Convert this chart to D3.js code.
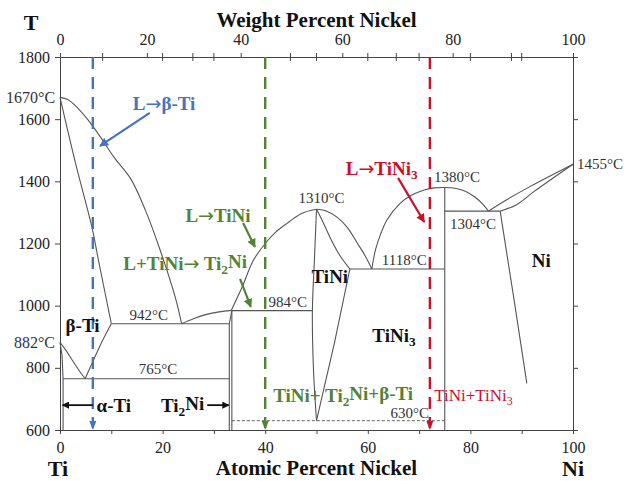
<!DOCTYPE html>
<html>
<head>
<meta charset="utf-8">
<script src="https://cdn.jsdelivr.net/npm/d3@7"></script>
<style>
  body { margin: 0; background: #fff; }
  text { font-family: "Liberation Serif", "Times New Roman", serif; }
</style>
</head>
<body>
<div id="chart-wrapper"></div>
<script>

//////////////////////////////////////////////////
/////////////////// Constants ////////////////////
//////////////////////////////////////////////////

const width = 626;
const height = 481;
const margin = {top: 57, right: 53, bottom: 51, left: 60};
const lineColour = "#555";
const blue = "#4472c4";
const green = "#548235";
const red = "#c8102e";

// axis ticks
const tempTicks = [600, 800, 1000, 1200, 1400, 1600, 1800];
const atomicTicks = [0, 10, 20, 30, 40, 50, 60, 70, 80, 90, 100];
const atomicLabels = [0, 20, 40, 60, 80, 100];
const weightLabels = [0, 20, 40, 60, 80, 100];
const weightMinor = [10, 30, 50, 70, 90];
const atomicTopTicks = [20, 30, 50, 60, 70, 80, 90];

// phase boundaries, [atomic % Ni, T in °C]
const liquidusBeta = [[0,1670],[1.5,1663],[3.5,1635],[5.5,1597],[8,1540],[10.5,1478],[13.8,1408],[16.7,1305],[19.5,1180],[22.5,1025],[23.7,942]];
const solidusBeta = [[0,1670],[3,1460],[6.2,1254],[7.5,1146],[10,942]];
const transusLeft = [[0,882],[1,860],[2.5,822],[4,785],[4.9,765]];
const transusRight = [[4.9,765],[6.5,824],[8.2,885],[10,942]];
const alphaSolvus = [[0,882],[0.4,840],[0.6,765],[0.6,600]];
const eutectoid765 = [[0.6,765],[33.0,765]];
const eutectic942 = [[10,942],[33.0,942]];
const liquidusTi2Ni = [[23.7,942],[26,958],[28.6,972],[31,980],[33.4,985]];
const liquidusTiNiLeft = [[33.4,985],[35.5,1060],[37.7,1146],[40,1200],[42,1236],[44.2,1264],[47,1296],[50,1310]];
const ti2NiLeft = [[33.0,600],[33.0,942],[33.5,984]];
const ti2NiRight = [[33.5,600],[33.5,984]];
const peritectic984 = [[33.5,984],[49.2,984]];
const tiNiLeft = [[50,1310],[49.6,1150],[49.2,984],[49.4,800],[50,630]];
const tiNiSolidus = [[50,1310],[51,1278],[52.6,1221],[54.5,1163],[56.5,1118]];
const tiNiSolvus = [[56.5,1118],[53.5,880],[50,630]];
const liquidusTiNiRight = [[50,1310],[52,1304],[54,1285],[56,1252],[58,1200],[59.5,1160],[60.8,1118]];
const eutectic1118 = [[56.5,1118],[75,1118]];
const liquidusTiNi3Left = [[60.8,1118],[61.5,1180],[62.5,1230],[63.7,1275],[66.3,1329],[68.5,1355],[71,1372],[73,1379],[75,1380]];
const liquidusTiNi3Right = [[75,1380],[77,1378],[79,1368],[81,1348],[82.5,1325],[83.5,1304]];
const tiNi3Line = [[75,600],[75,1380]];
const eutectic1304 = [[75,1304],[85.8,1304]];
const liquidusNi = [[83.5,1304],[87,1340],[91.6,1383],[100,1455]];
const solidusNi = [[85.8,1304],[89,1325],[92.3,1366],[100,1455]];
const solvusNi = [[85.8,1304],[88.5,1020],[91,750]];
const eutectoid630 = [[33.5,630],[75,630]];

const straightLines = [ti2NiLeft, ti2NiRight, peritectic984, eutectoid765, eutectic942, alphaSolvus,
  eutectic1118, tiNi3Line, eutectic1304, solvusNi, tiNiSolvus];
const curvedLines = [liquidusBeta, solidusBeta, transusLeft, transusRight, liquidusTi2Ni, liquidusTiNiLeft,
  tiNiLeft, tiNiSolidus, liquidusTiNiRight, liquidusTiNi3Left, liquidusTiNi3Right, liquidusNi, solidusNi];

// temperature labels: text, at%, T
const tempLabels = [
  ["1310°C", 51.0, 1346], ["984°C", 44.4, 1013], ["942°C", 17.3, 970], ["765°C", 19.1, 796],
  ["1118°C", 67.1, 1147], ["1380°C", 77.4, 1415], ["1304°C", 80.5, 1263], ["630°C", 68.2, 656]
];

// composition of the three alloys (at% Ni)
const alloys = [6.4, 40, 72.1];
const alloyColours = [blue, green, red];

// phase names: [parts, odd ones are subscripts], at%, T, colour, weight, size
const phaseLabels = [
  [["β-Ti"], 4.4, 938, "#111", "bold", 19],
  [["α-Ti"], 10.5, 680, "#111", "bold", 19],
  [["Ti", "2", "Ni"], 23.9, 680, "#111", "bold", 19],
  [["TiNi"], 52.6, 1093, "#111", "bold", 19],
  [["TiNi", "3"], 65.1, 906, "#111", "bold", 19],
  [["Ni"], 93.8, 1147, "#111", "bold", 19],
  [["L→β-Ti"], 20.3, 1652, blue, "bold", 19],
  [["L→TiNi"], 30.8, 1292, green, "bold", 19],
  [["L+TiNi→ Ti", "2", "Ni"], 24.4, 1136, green, "bold", 19],
  [["L→TiNi", "3"], 62.7, 1443, red, "bold", 19],
  [["TiNi+ Ti", "2", "Ni+β-Ti"], 55.2, 712, green, "bold", 19],
  [["TiNi+TiNi", "3"], 80.6, 712, red, "normal", 17]
];

// annotation arrows: [from at%, T], [to at%, T], colour
const arrows = [
  [[17.5,1620],[7.8,1514], blue],
  [[35.7,1266],[38.0,1189], green],
  [[35.1,1086],[37.2,996], green],
  [[65.9,1411],[71.0,1269], red],
  [[6.4,680],[0.5,680], "#111"],
  [[28.7,680],[32.9,680], "#111"]
];

// weight % -> atomic % (Ti 47.87, Ni 58.69)
const wtToAt = w => 100 * (w / 58.69) / (w / 58.69 + (100 - w) / 47.87);

/// SVG ///
const svg = d3.select("#chart-wrapper")
  .append("svg")
    .attr("width", width)
    .attr("height", height);
const g = svg.append("g");

const defs = svg.append("defs");
const allColours = [blue, green, red, "#111"];
allColours.forEach((c, i) => {
  defs.append("marker")
    .attr("id", "arrow-" + i)
    .attr("viewBox", "0 0 10 10")
    .attr("refX", 9).attr("refY", 5)
    .attr("markerWidth", 4).attr("markerHeight", 4)
    .attr("markerUnits", "strokeWidth")
    .attr("orient", "auto")
    .append("path")
      .attr("d", "M0,0 L10,5 L0,10 z")
      .attr("fill", c);
});
const markerFor = c => `url(#arrow-${allColours.indexOf(c)})`;

/// Scales ///
const xScale = d3.scaleLinear().domain([0, 100]).range([margin.left, width - margin.right]);
const yScale = d3.scaleLinear().domain([600, 1800]).range([height - margin.bottom, margin.top]);

/// Axes ///
const styleAxis = a => a
  .call(a => a.select(".domain").attr("stroke", "#444"))
  .call(a => a.selectAll(".tick line").attr("stroke", "#444"))
  .call(a => a.selectAll("text").attr("font-size", 16).attr("fill", "#222")
    .attr("font-family", "Liberation Serif, serif"));

g.append("g")
  .attr("transform", `translate(${margin.left},0)`)
  .call(d3.axisLeft(yScale).tickValues(tempTicks).tickSize(5).tickPadding(5).tickSizeOuter(0)
    .tickFormat(d3.format("d")))
  .call(styleAxis);

g.append("g")
  .attr("transform", `translate(${width - margin.right},0)`)
  .call(d3.axisRight(yScale).tickValues(tempTicks).tickSize(5).tickFormat("").tickSizeOuter(0))
  .call(styleAxis);

g.append("g")
  .attr("transform", `translate(0,${height - margin.bottom})`)
  .call(d3.axisBottom(xScale).tickValues(atomicTicks).tickSize(4).tickPadding(8).tickSizeOuter(0)
    .tickFormat(d => atomicLabels.includes(d) ? d : ""))
  .call(styleAxis);

// top axis in weight percent
g.append("g")
  .attr("transform", `translate(0,${margin.top})`)
  .call(d3.axisTop(xScale).tickValues(weightLabels.map(wtToAt)).tickSize(4).tickPadding(8).tickSizeOuter(0)
    .tickFormat((d, i) => weightLabels[i]))
  .call(styleAxis);
const topMinor = weightMinor.map(wtToAt).concat(atomicTopTicks);
g.append("g").selectAll("line")
  .data(topMinor)
  .join("line")
    .attr("x1", d => xScale(d)).attr("x2", d => xScale(d))
    .attr("y1", margin.top - 4).attr("y2", margin.top + 4)
    .attr("stroke", "#444");

/// Phase boundaries ///
const straight = d3.line(d => xScale(d[0]), d => yScale(d[1]));
const smooth = d3.line(d => xScale(d[0]), d => yScale(d[1])).curve(d3.curveCatmullRom);

const diagramG = g.append("g").attr("fill", "none").attr("stroke", lineColour).attr("stroke-width", 1.1);
diagramG.selectAll(".straight").data(straightLines).join("path").attr("class", "straight").attr("d", straight);
diagramG.selectAll(".smooth").data(curvedLines).join("path").attr("class", "smooth").attr("d", smooth);
diagramG.append("path").attr("d", straight(eutectoid630)).attr("stroke-dasharray", "3,2").attr("stroke-width", 0.9);

/// Alloy lines ///
g.selectAll(".alloy")
  .data(alloys)
  .join("line")
    .attr("class", "alloy")
    .attr("x1", d => xScale(d)).attr("x2", d => xScale(d))
    .attr("y1", yScale(1800)).attr("y2", yScale(600) - 2)
    .attr("stroke", (d, i) => alloyColours[i])
    .attr("stroke-width", 2.4)
    .attr("stroke-dasharray", "12,8");
g.selectAll(".alloy-head")
  .data(alloys)
  .join("path")
    .attr("class", "alloy-head")
    .attr("d", d => `M${xScale(d) - 3.5},${yScale(600) - 9} L${xScale(d) + 3.5},${yScale(600) - 9} L${xScale(d)},${yScale(600)} z`)
    .attr("fill", (d, i) => alloyColours[i]);

/// Arrows ///
g.selectAll(".note-arrow")
  .data(arrows)
  .join("line")
    .attr("class", "note-arrow")
    .attr("x1", d => xScale(d[0][0])).attr("y1", d => yScale(d[0][1]))
    .attr("x2", d => xScale(d[1][0])).attr("y2", d => yScale(d[1][1]))
    .attr("stroke", d => d[2])
    .attr("stroke-width", d => d[2] === "#111" ? 1.8 : 2.2)
    .attr("marker-end", d => markerFor(d[2]));

/// Text ///
g.selectAll(".temp-label")
  .data(tempLabels)
  .join("text")
    .attr("class", "temp-label")
    .attr("x", d => xScale(d[1])).attr("y", d => yScale(d[2]))
    .attr("dy", "0.35em")
    .attr("text-anchor", "middle")
    .attr("font-size", 15)
    .attr("fill", "#333")
    .text(d => d[0]);

g.append("text").attr("x", xScale(0) - 54).attr("y", yScale(1670)).attr("dy", "0.35em")
  .attr("font-size", 16).attr("fill", "#333").text("1670°C");
g.append("text").attr("x", xScale(0) - 5).attr("y", yScale(882)).attr("dy", "0.35em")
  .attr("text-anchor", "end").attr("font-size", 16).attr("fill", "#333").text("882°C");
g.append("text").attr("x", xScale(100) + 4).attr("y", yScale(1455)).attr("dy", "0.35em")
  .attr("font-size", 15).attr("fill", "#333").text("1455°C");

const phaseText = g.selectAll(".phase-label")
  .data(phaseLabels)
  .join("text")
    .attr("class", "phase-label")
    .attr("x", d => xScale(d[1])).attr("y", d => yScale(d[2]))
    .attr("dy", "0.35em")
    .attr("text-anchor", "middle")
    .attr("font-size", d => d[5])
    .attr("font-weight", d => d[4])
    .attr("fill", d => d[3]);
phaseText.each(function(d) {
  const t = d3.select(this);
  let shift = null;
  d[0].forEach((part, i) => {
    if (i % 2 === 1) {
      t.append("tspan").attr("dy", "0.3em").attr("font-size", d[5] * 0.7).text(part);
      shift = "-0.3em";
      return;
    }
    part.split("→").forEach((piece, j) => {
      if (j > 0) {
        t.append("tspan").attr("dy", shift).attr("font-family", "DejaVu Sans")
          .attr("font-weight", "normal").text("→");
        shift = null;
      }
      if (piece) {
        t.append("tspan").attr("dy", shift).text(piece);
        shift = null;
      }
    });
  });
});

/// Axis titles ///
const titles = [
  ["T", 31, 22, "middle", 22],
  ["Weight Percent Nickel", (margin.left + width - margin.right) / 2, 20, "middle", 21],
  ["Atomic Percent Nickel", (margin.left + width - margin.right) / 2, 468, "middle", 21],
  ["Ti", xScale(0) - 2, 468, "middle", 22],
  ["Ni", xScale(100), 468, "middle", 22]
];
g.selectAll(".title")
  .data(titles)
  .join("text")
    .attr("class", "title")
    .attr("x", d => d[1]).attr("y", d => d[2])
    .attr("dy", "0.35em")
    .attr("text-anchor", d => d[3])
    .attr("font-size", d => d[4])
    .attr("font-weight", "bold")
    .attr("fill", "#111")
    .text(d => d[0]);

</script>
</body>
</html>
